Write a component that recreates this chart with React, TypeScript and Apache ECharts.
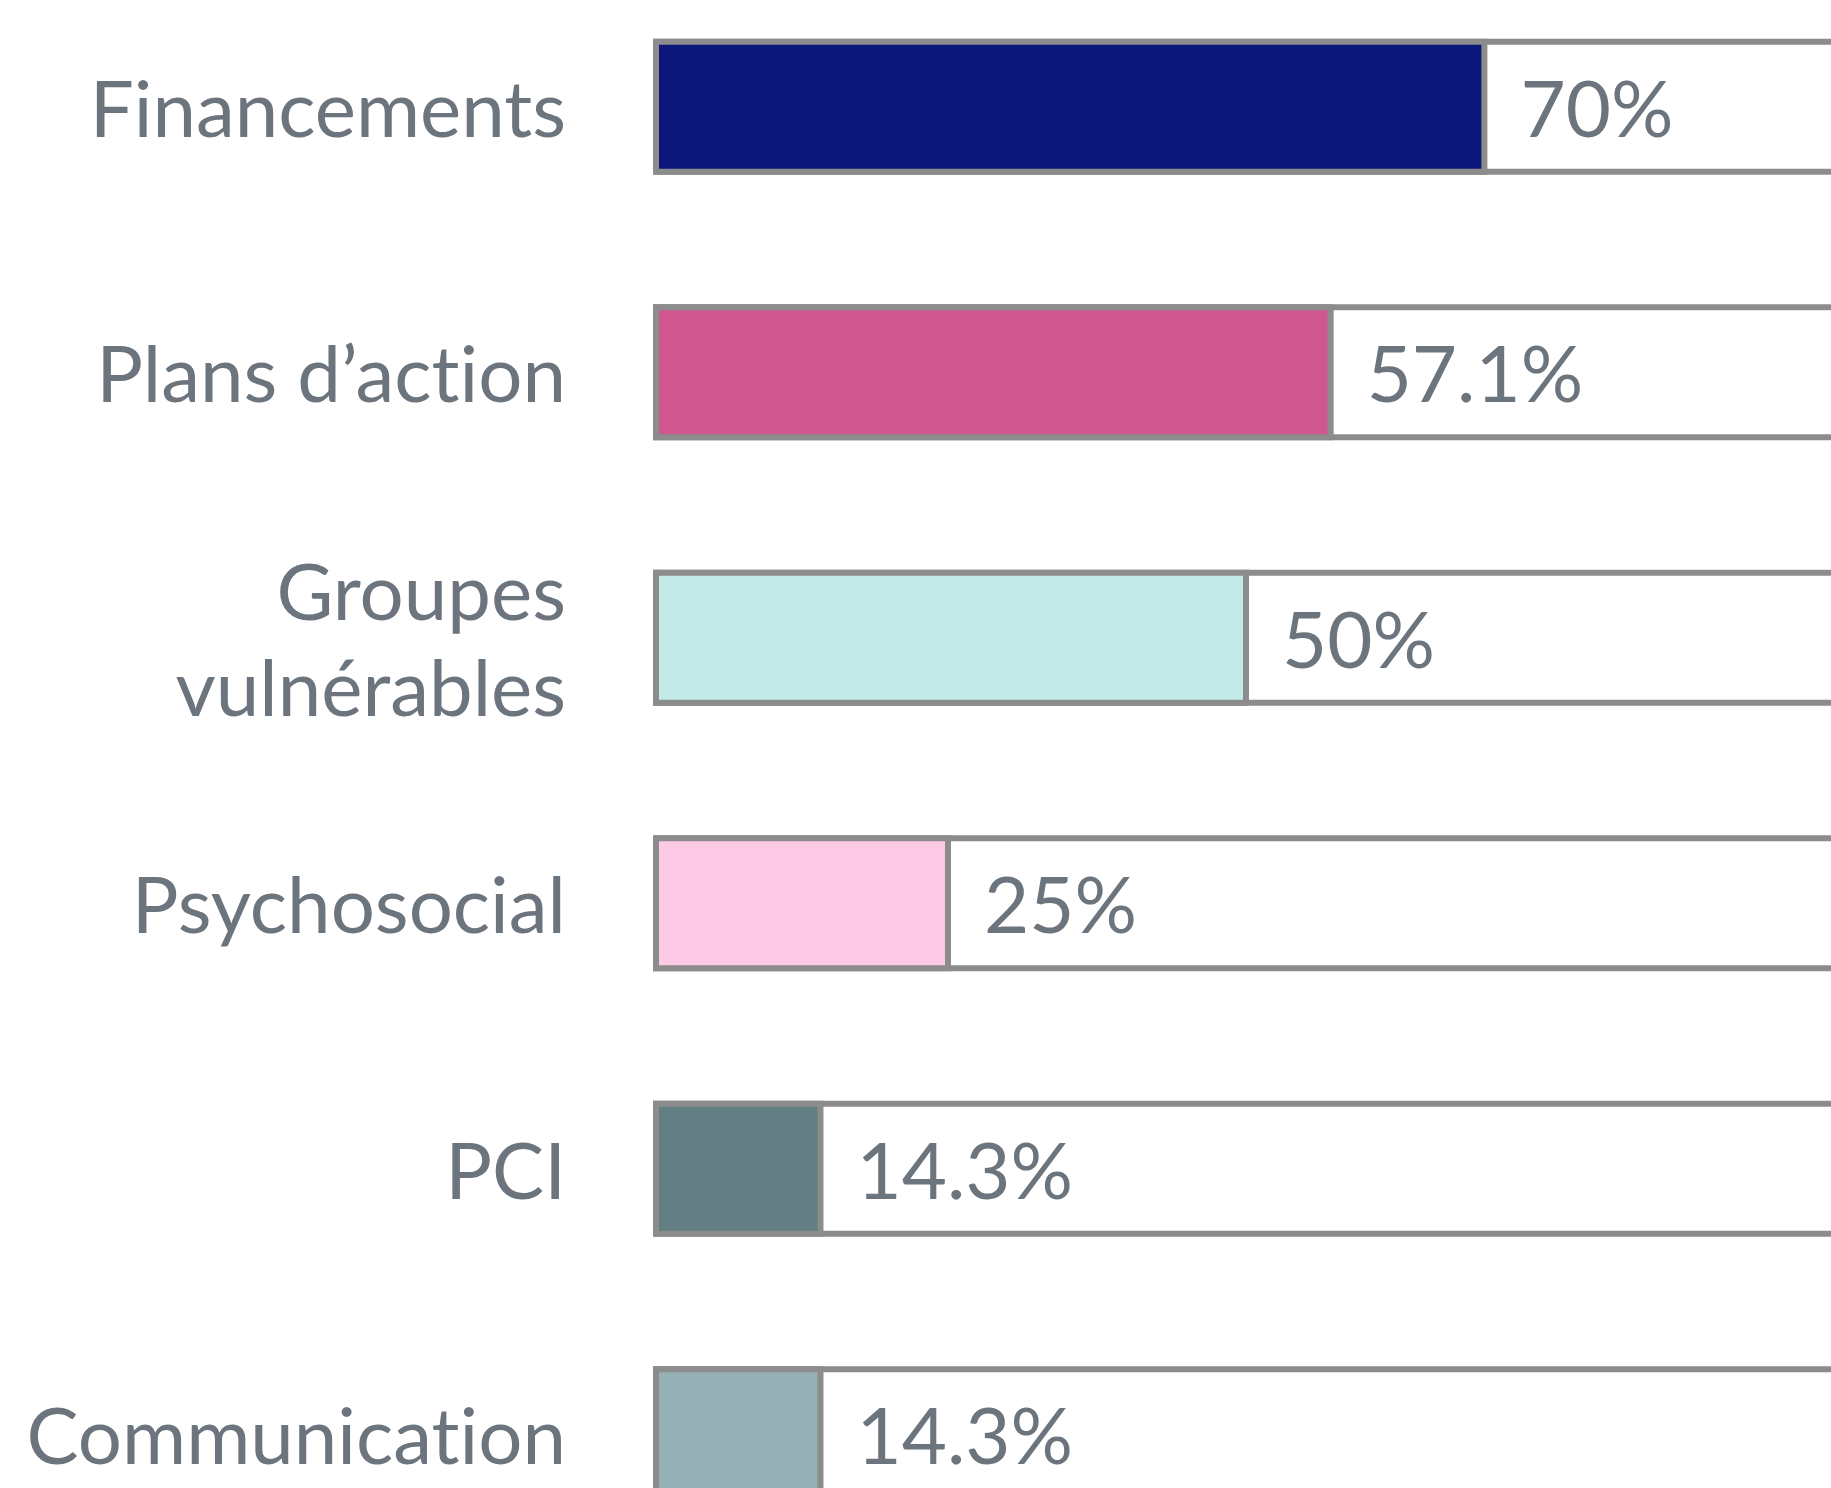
import React, { useEffect, useRef } from "react";
import * as echarts from "echarts";

const categories = [
  "Financements",
  "Plans d’action",
  "Groupes\nvulnérables",
  "Psychosocial",
  "PCI",
  "Communication",
];
const values = [70, 57.1, 50, 25, 14.3, 14.3];
const barColors = ["#0d177b", "#d05690", "#c2ebe8", "#fccae4", "#637f84", "#95b1b5"];
const fullValue = 100;

export default function App() {
  const ref = useRef<HTMLDivElement>(null);
  useEffect(() => {
    const chart = echarts.init(ref.current!, null, { renderer: "svg" });
    chart.setOption({
      animation: false,
      backgroundColor: "#ffffff",
      grid: { left: 653, top: 0, width: 1192, height: 1593, containLabel: false },
      xAxis: { type: "value", min: 0, max: fullValue, show: false },
      yAxis: {
        type: "category",
        data: categories,
        inverse: true,
        axisLine: { show: false },
        axisTick: { show: false },
        splitLine: { show: false },
        axisLabel: {
          margin: 87,
          fontSize: 78,
          fontFamily: "Lato",
          color: "#6c757d",
          lineHeight: 96,
          align: "right",
        },
      },
      series: [
        {
          type: "bar",
          data: categories.map(() => fullValue),
          barWidth: 136,
          barGap: "-100%",
          silent: true,
          itemStyle: { color: "#ffffff", borderColor: "#8c8c8c", borderWidth: 6 },
        },
        {
          type: "bar",
          data: values.map((v, i) => ({ value: v, itemStyle: { color: barColors[i] } })),
          barWidth: 136,
          barGap: "-100%",
          itemStyle: { borderColor: "#8c8c8c", borderWidth: 6 },
          label: {
            show: true,
            position: "right",
            distance: 33,
            formatter: (p: any) => `${p.value}%`,
            fontSize: 78,
            fontFamily: "Lato",
            color: "#6c757d",
          },
        },
      ],
    });
    return () => chart.dispose();
  }, []);
  return (
    <div
      className="chart-wrap"
      style={{
        position: "fixed",
        left: 0,
        top: 0,
        width: "1831px",
        height: "1488px",
        overflow: "hidden",
        background: "#ffffff",
      }}
    >
      <style>{`.chart-wrap text { font-variant-ligatures: none; font-feature-settings: "liga" 0, "clig" 0; }`}</style>
      <div ref={ref} style={{ position: "absolute", left: 0, top: -26, width: 1900, height: 1660 }} />
    </div>
  );
}
